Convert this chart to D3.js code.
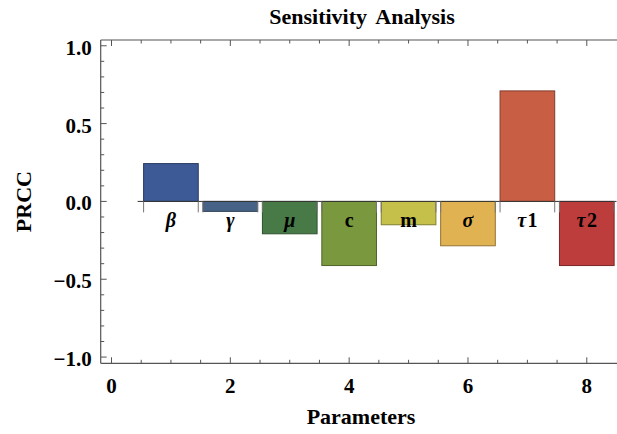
<!DOCTYPE html>
<html>
<head>
<meta charset="utf-8">
<script src="https://cdn.jsdelivr.net/npm/d3@7"></script>
<style>
  body { margin: 0; background: #fff; }
  text { font-family: "Liberation Serif", "Times New Roman", serif; font-weight: bold; }
</style>
</head>
<body>
<svg id="chart" width="617" height="434"></svg>
<script>
var params = ["β", "γ", "μ", "c", "m", "σ", "τ1", "τ2"];
var italicName = [true, true, true, false, false, true, true, true];
var prcc = [0.243, -0.064, -0.208, -0.412, -0.150, -0.285, 0.710, -0.412];
var barColors = ["#3d5a96", "#476287", "#487a48", "#7a993e", "#c4c04a", "#e0b252", "#c85e44", "#bd3c3c"];
var xTickValues = [0, 2, 4, 6, 8];
var yTickValues = [-1.0, -0.5, 0.0, 0.5, 1.0];

var svg = d3.select("#chart");
var plotLeft = 100.7, plotRight = 616.5, plotTop = 40, plotBottom = 363.3;

var x = d3.scaleLinear().domain([-0.182, 8.5]).range([plotLeft, plotRight]);
var y = d3.scaleLinear().domain([-1.04, 1.037]).range([plotBottom, plotTop]);
var barW = 0.92;
var frameColor = "#555";

// bars
svg.selectAll("rect.bar")
  .data(prcc)
  .enter().append("rect")
  .attr("class", "bar")
  .attr("x", function (_, i) { return x(i + 1 - barW / 2); })
  .attr("width", x(barW) - x(0))
  .attr("y", function (d) { return y(Math.max(0, d)); })
  .attr("height", function (d) { return Math.abs(y(d) - y(0)); })
  .attr("fill", function (_, i) { return barColors[i]; })
  .attr("stroke", function (_, i) { return d3.color(barColors[i]).darker(1.2); })
  .attr("stroke-width", 1);

// zero axis with little ticks at bar edges
svg.append("line")
  .attr("x1", x(0.44)).attr("x2", plotRight)
  .attr("y1", y(0)).attr("y2", y(0))
  .attr("stroke", "#333").attr("stroke-width", 1);

var edges = [];
prcc.forEach(function (_, i) { edges.push(i + 1 - barW / 2, i + 1 + barW / 2); });
svg.selectAll("line.edge")
  .data(edges)
  .enter().append("line")
  .attr("x1", function (d) { return x(d); }).attr("x2", function (d) { return x(d); })
  .attr("y1", y(0)).attr("y2", y(0) + 11)
  .attr("stroke", "#777").attr("stroke-width", 1);

// category labels
svg.selectAll("text.cat")
  .data(params)
  .enter().append("text")
  .attr("x", function (_, i) { return x(i + 1); })
  .attr("y", y(0) + 25.5)
  .attr("text-anchor", "middle")
  .style("font-size", "20px")
  .each(function (d, i) {
    var t = d3.select(this);
    if (italicName[i]) {
      t.append("tspan").style("font-style", "italic").text(d.charAt(0));
      if (d.length > 1) t.append("tspan").attr("dx", 1.5).text(d.slice(1));
    } else {
      t.text(d);
    }
  });

// frame
var frame = svg.append("g");
frame.append("line").attr("x1", plotLeft).attr("x2", plotLeft).attr("y1", plotTop).attr("y2", plotBottom);
frame.append("line").attr("x1", plotLeft).attr("x2", plotRight + 1).attr("y1", plotTop).attr("y2", plotTop);
frame.append("line").attr("x1", plotLeft).attr("x2", plotRight + 1).attr("y1", plotBottom).attr("y2", plotBottom);
frame.selectAll("line").attr("stroke", frameColor).attr("stroke-width", 1.2);

var xMinor = d3.range(0, 8.01, 0.5);
var yMinor = d3.range(-1, 1.001, 0.1).map(function (v) { return Math.round(v * 10) / 10; });
function isMajorX(v) { return v % 2 === 0; }
function isMajorY(v) { return Math.abs(v * 2 - Math.round(v * 2)) < 1e-6; }

[plotBottom, plotTop].forEach(function (yy, k) {
  var dir = k === 0 ? -1 : 1;
  frame.selectAll(null)
    .data(xMinor)
    .enter().append("line")
    .attr("x1", function (d) { return x(d); }).attr("x2", function (d) { return x(d); })
    .attr("y1", yy).attr("y2", function (d) { return yy + dir * (isMajorX(d) ? 6 : 3.5); })
    .attr("stroke", frameColor).attr("stroke-width", 1);
});
frame.selectAll(null)
  .data(yMinor)
  .enter().append("line")
  .attr("y1", function (d) { return y(d); }).attr("y2", function (d) { return y(d); })
  .attr("x1", plotLeft).attr("x2", function (d) { return plotLeft + (isMajorY(d) ? 6 : 3.5); })
  .attr("stroke", frameColor).attr("stroke-width", 1);

// tick labels
svg.selectAll("text.xt")
  .data(xTickValues)
  .enter().append("text")
  .attr("x", function (d) { return x(d); })
  .attr("y", plotBottom + 30)
  .attr("text-anchor", "middle")
  .style("font-size", "21px")
  .text(function (d) { return d; });

svg.selectAll("text.yt")
  .data(yTickValues)
  .enter().append("text")
  .attr("x", plotLeft - 9)
  .attr("y", function (d) { return y(d) + 9; })
  .attr("text-anchor", "end")
  .style("font-size", "21px")
  .text(function (d) { return d3.format(".1f")(d).replace("-", "\u2212"); });

// titles
svg.append("text")
  .attr("x", 362).attr("y", 24)
  .attr("text-anchor", "middle")
  .style("font-size", "22px")
  .style("word-spacing", "4px")
  .text("Sensitivity Analysis");

svg.append("text")
  .attr("x", 361).attr("y", 424)
  .attr("text-anchor", "middle")
  .style("font-size", "22px")
  .text("Parameters");

svg.append("text")
  .attr("transform", "translate(31," + ((plotTop + plotBottom) / 2) + ") rotate(-90)")
  .attr("text-anchor", "middle")
  .style("font-size", "22px")
  .text("PRCC");
</script>
</body>
</html>
